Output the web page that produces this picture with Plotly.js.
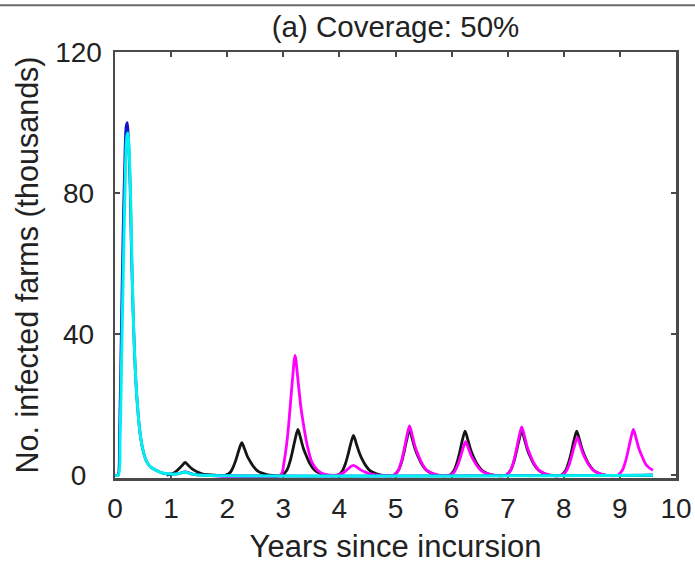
<!DOCTYPE html>
<html>
<head>
<meta charset="utf-8">
<script src="https://cdn.plot.ly/plotly-3.0.1.min.js"></script>
<style>html,body{margin:0;padding:0;background:#fff;}#chart{width:695px;height:564px;}</style>
</head>
<body>
<div id="chart"></div>
<script>
// Years since incursion / infected farms (thousands)
const blueX = [0, 0.05, 0.08, 0.11, 0.14, 0.17, 0.20, 0.22, 0.24, 0.27, 0.29, 0.32, 0.35, 0.39, 0.45, 0.50, 0.56, 0.63, 0.74, 0.85, 1.0, 1.12, 1.25, 1.38, 1.55, 9.59];
const blueY = [0, 0, 11, 38, 65, 86, 99, 100, 95, 82, 66, 48, 34, 22, 11.5, 7, 4, 2.4, 1.3, 0.6, 0.3, 0.4, 0.9, 0.3, 0, 0];

const cyanX = [0, 0.06, 0.09, 0.12, 0.15, 0.18, 0.21, 0.23, 0.25, 0.28, 0.30, 0.32, 0.35, 0.39, 0.45, 0.50, 0.56, 0.63, 0.74, 0.85, 1.0, 1.12, 1.25, 1.38, 1.55, 9.59];
const cyanY = [0, 0, 10, 35, 60, 82, 96, 97, 93, 78, 62, 48, 34, 22, 11.5, 7, 4, 2.4, 1.3, 0.6, 0.3, 0.4, 0.8, 0.3, 0, 0];

const blackX = [0.92, 1.02, 1.09, 1.14, 1.20, 1.25, 1.30, 1.35, 1.40, 1.47, 1.55, 1.65, 1.78,
  1.98, 2.06, 2.12, 2.16, 2.21, 2.26, 2.31, 2.36, 2.41, 2.48, 2.56, 2.66, 2.76,
  2.98, 3.06, 3.12, 3.16, 3.21, 3.26, 3.31, 3.36, 3.41, 3.48, 3.56, 3.66, 3.76,
  3.97, 4.05, 4.11, 4.15, 4.20, 4.25, 4.30, 4.35, 4.40, 4.47, 4.55, 4.65, 4.75,
  4.97, 5.05, 5.11, 5.15, 5.20, 5.25, 5.30, 5.35, 5.40, 5.47, 5.55, 5.65, 5.75,
  5.96, 6.04, 6.10, 6.14, 6.19, 6.24, 6.29, 6.34, 6.39, 6.46, 6.54, 6.64, 6.74,
  6.97, 7.05, 7.11, 7.15, 7.20, 7.25, 7.30, 7.35, 7.40, 7.47, 7.55, 7.65, 7.75,
  7.95, 8.03, 8.09, 8.13, 8.18, 8.23, 8.28, 8.33, 8.38, 8.45, 8.53, 8.63, 8.73, 9.59];
const blackY = [0, 0.4, 1.1, 1.8, 2.8, 3.6, 2.9, 2.1, 1.5, 0.9, 0.4, 0.15, 0,
  0, 0.9, 2.8, 4.6, 7.2, 9.2, 7.4, 5.3, 3.9, 2.2, 1.0, 0.4, 0,
  0, 1.3, 3.9, 6.5, 10.1, 13, 10.4, 7.5, 5.5, 3.1, 1.4, 0.5, 0,
  0, 1.1, 3.4, 5.6, 8.8, 11.3, 9.0, 6.6, 4.7, 2.7, 1.2, 0.45, 0,
  0, 1.3, 3.8, 6.4, 10, 12.8, 10.2, 7.4, 5.4, 3.1, 1.4, 0.5, 0,
  0, 1.25, 3.8, 6.2, 9.8, 12.5, 10, 7.2, 5.2, 3, 1.4, 0.5, 0,
  0, 1.3, 3.8, 6.3, 9.8, 12.6, 10.1, 7.3, 5.3, 3, 1.4, 0.5, 0,
  0, 1.25, 3.8, 6.2, 9.8, 12.5, 10, 7.2, 5.2, 3, 1.4, 0.5, 0, 0];

const magentaX = [1.6, 2.95, 3.01, 3.07, 3.11, 3.16, 3.21, 3.26, 3.31, 3.36, 3.43, 3.51, 3.61, 3.72,
  3.95, 4.05, 4.12, 4.19, 4.25, 4.31, 4.38, 4.47, 4.57, 4.70,
  4.97, 5.05, 5.11, 5.15, 5.20, 5.25, 5.30, 5.35, 5.40, 5.47, 5.55, 5.65, 5.75,
  5.97, 6.05, 6.11, 6.15, 6.20, 6.25, 6.30, 6.35, 6.40, 6.47, 6.55, 6.65, 6.75,
  6.97, 7.05, 7.11, 7.15, 7.20, 7.25, 7.30, 7.35, 7.40, 7.47, 7.55, 7.65, 7.75,
  7.96, 8.04, 8.10, 8.14, 8.19, 8.24, 8.29, 8.34, 8.39, 8.46, 8.54, 8.64, 8.74,
  8.96, 9.04, 9.10, 9.14, 9.19, 9.24, 9.29, 9.34, 9.39, 9.46, 9.52, 9.59];
const magentaY = [0, 0, 3.4, 10.2, 17, 26.5, 34, 27.2, 19.7, 14.3, 8.2, 3.7, 1.4, 0.3,
  0, 0.5, 1.3, 2.3, 2.8, 2.3, 1.5, 0.8, 0.3, 0,
  0, 1.4, 4.2, 7, 10.9, 14, 11.2, 8.1, 5.9, 3.4, 1.5, 0.6, 0,
  0, 0.95, 2.9, 4.8, 7.4, 9.5, 7.6, 5.5, 4, 2.3, 1, 0.4, 0,
  0, 1.4, 4.1, 6.9, 10.7, 13.7, 11, 7.9, 5.8, 3.3, 1.5, 0.55, 0,
  0, 1.1, 3.2, 5.4, 8.3, 10.7, 8.6, 6.2, 4.5, 2.6, 1.2, 0.45, 0,
  0, 1.3, 3.9, 6.5, 10.1, 13, 10.4, 7.5, 5.5, 3.1, 2.1, 1.4];

const xTicks = [0, 1, 2, 3, 4, 5, 6, 7, 8, 9, 10];
const yTicks = [0, 40, 80, 120];
const yTickText = ['0\u2007', '40\u2008', '80\u2008', '120'];

const FONT = '"Liberation Sans", Arial, Helvetica, sans-serif';
const AX = '#4a4a4a';

function tr(x, y, color, w) {
  return {x: x, y: y, type: 'scatter', mode: 'lines', hoverinfo: 'skip',
    line: {color: color, width: w, shape: 'spline', smoothing: 0.8}};
}

const data = [
  tr(blackX, blackY, '#151515', 2.8),
  tr(magentaX, magentaY, '#ff00ff', 2.8),
  tr(blueX, blueY, '#1414c8', 2.8),
  tr(cyanX, cyanY, '#00f0f0', 3)
];

const layout = {
  width: 695, height: 564,
  margin: {l: 115, r: 19, t: 52, b: 86},
  paper_bgcolor: '#fff', plot_bgcolor: '#fff',
  showlegend: false,
  font: {family: FONT, color: '#222', size: 28},
  title: {text: '(a) Coverage: 50%', font: {family: FONT, size: 29.5, color: '#222'},
    x: 0.5, xref: 'paper', xanchor: 'center', y: 0.952, yref: 'container', yanchor: 'middle'},
  xaxis: {
    range: [0, 10], tickvals: xTicks, ticktext: xTicks.map(String),
    showgrid: false, zeroline: false, layer: 'below traces',
    showline: true, linecolor: AX, linewidth: 2.5, mirror: 'ticks',
    ticks: 'inside', ticklen: 5, tickwidth: 2, tickcolor: AX,
    tickfont: {family: FONT, size: 28, color: '#222'},
    ticklabelstandoff: 4,
    title: {text: 'Years since incursion', font: {family: FONT, size: 31, color: '#222'}, standoff: 12},
    automargin: false
  },
  yaxis: {
    range: [-0.8, 120], tickvals: yTicks, ticktext: yTickText,
    showgrid: false, zeroline: false, layer: 'below traces',
    showline: true, linecolor: AX, linewidth: 2.5, mirror: 'ticks',
    ticks: 'inside', ticklen: 5, tickwidth: 2, tickcolor: AX,
    tickfont: {family: FONT, size: 28, color: '#222'},
    ticklabelstandoff: 5,
    title: {text: 'No. infected farms (thousands)', font: {family: FONT, size: 30.5, color: '#222'}, standoff: 8},
    automargin: false
  },
  shapes: [{type: 'line', xref: 'paper', yref: 'paper', x0: -0.25, x1: 1.1, y0: 1.11, y1: 1.11,
    line: {color: '#6a6a6a', width: 2}}]
};

Plotly.newPlot('chart', data, layout, {displayModeBar: false, staticPlot: true});
</script>
</body>
</html>
